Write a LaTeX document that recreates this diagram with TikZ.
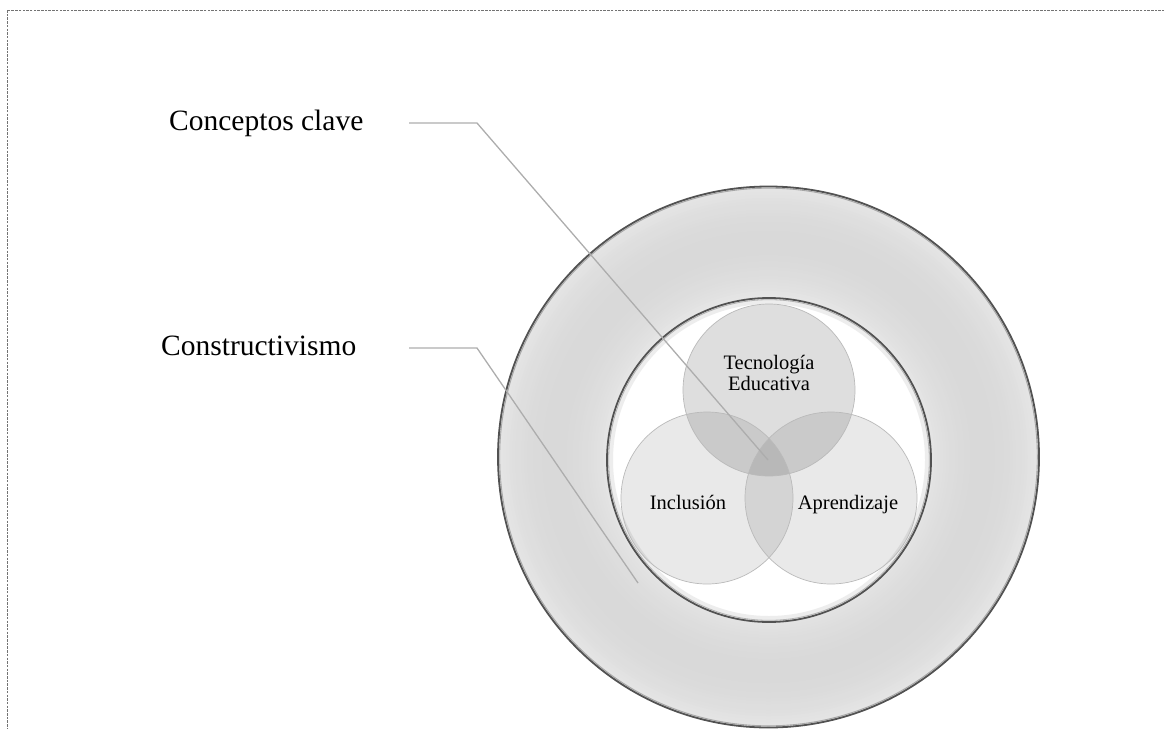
\documentclass[tikz,border=0pt]{standalone}
\usepackage{fontspec}
\setmainfont{Liberation Serif}
\begin{document}
\begin{tikzpicture}[x=1pt,y=-1pt,
  frame/.style={draw=black!55, line width=1pt, dash pattern=on 2.5pt off 1.2pt},
  lbl/.style={font=\fontsize{29.5}{34}\selectfont, inner sep=0pt, anchor=base west},
  inlbl/.style={font=\fontsize{20.5}{21}\selectfont, inner sep=0pt, align=center},
  leader/.style={draw=black!32, line width=1.3pt, line join=miter},
  venn/.style={draw=black!27, line width=0.7pt},
  ringline/.style={draw=black!68, line width=1.8pt},
  ringshadow/.style={draw=black!35, line width=0.9pt}]
\useasboundingbox (0,0) rectangle (1164,728);
\clip (0,0) rectangle (1164,728);
% frame
\draw[frame] (7,10) rectangle (1190,760);
% outer ring with gradient
\foreach \i in {0,...,36}{
  \pgfmathsetmacro{\r}{271-\i*3}
  \pgfmathsetmacro{\t}{(\r-162)/109}
  \pgfmathsetmacro{\p}{15-5*(2*\t-1)*(2*\t-1)}
  \fill[black!\p] (768.5,457) circle[radius=\r pt];
}
\draw[ringshadow] (768.5,457) circle[radius=268.8pt];
\draw[ringline] (768.5,457) circle[radius=270.5pt];
% inner white disc
\fill[white] (769,460) circle[radius=162pt];
\draw[draw=black!7, line width=5pt] (769,460) circle[radius=158.5pt];
% venn circles
\fill[black, fill opacity=0.13] (769,390) circle[radius=86pt];
\fill[black, fill opacity=0.085] (707,498) circle[radius=86pt];
\fill[black, fill opacity=0.085] (831,498) circle[radius=86pt];
\draw[venn] (769,390) circle[radius=86pt];
\draw[venn] (707,498) circle[radius=86pt];
\draw[venn] (831,498) circle[radius=86pt];
% inner circle outline
\draw[draw=black!30, line width=0.8pt] (769,460) circle[radius=160.3pt];
\draw[ringline] (769,460) circle[radius=162pt];
% inner labels
\node[inlbl] (tec) at (769,372.5) {Tecnología\\Educativa};
\node[inlbl, anchor=base] (inc) at (688,509) {Inclusión};
\node[inlbl, anchor=base] (apr) at (848,509) {Aprendizaje};
% outer labels
\node[lbl] (cc) at (169,130) {Conceptos clave};
\node[lbl] (cons) at (161,355) {Constructivismo};
% leader lines
\coordinate (ccA) at (409,123);
\coordinate (ccB) at (477,123);
\coordinate (ccE) at (768,460);
\coordinate (coA) at (409,348);
\coordinate (coB) at (477,348);
\coordinate (coE) at (638,583);
\draw[leader] (ccA) -- (ccB) -- (ccE);
\draw[leader] (coA) -- (coB) -- (coE);
\end{tikzpicture}
\end{document}
